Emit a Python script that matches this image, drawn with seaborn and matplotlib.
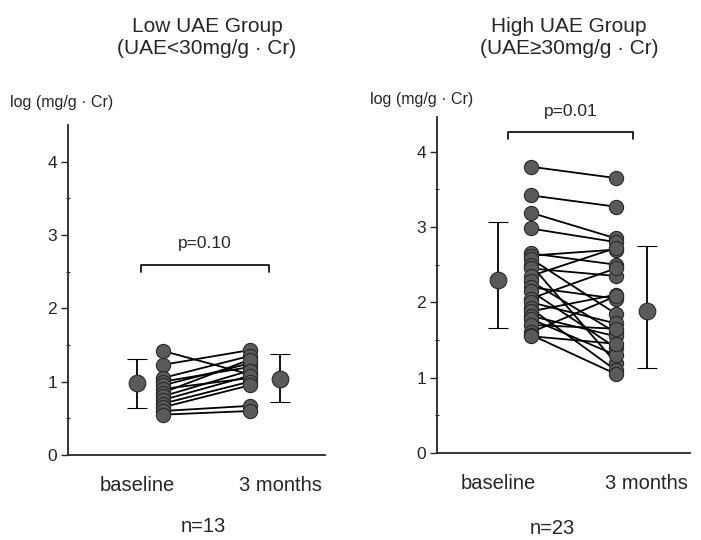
import numpy as np
import pandas as pd
import matplotlib
matplotlib.use("Agg")
import matplotlib.pyplot as plt
import seaborn as sns

sns.set_style("ticks")
plt.rcParams['font.family'] = ['Liberation Sans', 'DejaVu Sans']

# ---- data ----
timepoints = ["baseline", "3 months"]

low_baseline = [1.42, 1.23, 1.05, 1.00, 0.95, 0.90, 0.85, 0.80, 0.75, 0.70, 0.65, 0.60, 0.55]
low_3months = [1.10, 1.43, 1.35, 1.20, 1.25, 1.05, 1.30, 1.15, 1.08, 1.00, 0.95, 0.67, 0.60]
low_mean = [0.98, 1.04]
low_err_low = [0.34, 0.32]
low_err_high = [0.33, 0.34]

high_baseline = [3.80, 3.42, 3.19, 2.98, 2.65, 2.62, 2.58, 2.50, 2.45, 2.35, 2.28, 2.20,
                 2.15, 2.05, 2.00, 1.92, 1.88, 1.82, 1.78, 1.70, 1.60, 1.57, 1.55]
high_3months = [3.65, 3.27, 2.85, 2.80, 2.50, 2.70, 1.85, 1.20, 2.35, 2.72, 1.60, 2.05,
                1.40, 2.45, 1.72, 1.10, 2.10, 1.55, 1.30, 1.65, 2.08, 1.05, 1.45]
high_mean = [2.29, 1.88]
high_err_low = [0.63, 0.75]
high_err_high = [0.78, 0.87]

titles = ["Low UAE Group\n(UAE<30mg/g · Cr)", "High UAE Group\n(UAE≥30mg/g · Cr)"]
pvals = ["p=0.10", "p=0.01"]
ns = ["n=13", "n=23"]
ylabel = "log (mg/g · Cr)"

fig = plt.figure(figsize=(7.01, 5.40), dpi=100)

panels = [
    dict(rect=[68/701, 85/540, 257/701, 330/540], ylim=(0, 4.50), xlim=(-0.48, 1.31),
         base=low_baseline, m3=low_3months, mean=low_mean,
         err=[low_err_low, low_err_high], pts=(0.18, 0.785),
         bracket=(0.03, 0.92, 2.59, 2.50), ptext=2.89, title=titles[0], p=pvals[0], n=ns[0],
         titlex=207/701, ylabx=10/701, ylaby=1-102/540, nx=203/701, ny=1-527/540),
    dict(rect=[437/701, 87/540, 253/701, 336/540], ylim=(0, 4.46), xlim=(-0.41, 1.29),
         base=high_baseline, m3=high_3months, mean=high_mean,
         err=[high_err_low, high_err_high], pts=(0.22, 0.79),
         bracket=(0.07, 0.91, 4.26, 4.17), ptext=4.53, title=titles[1], p=pvals[1], n=ns[1],
         titlex=569/701, ylabx=370/701, ylaby=1-100/540, nx=552/701, ny=1-528/540),
]

pt_color = "#5a5a5a"

for P in panels:
    ax = fig.add_axes(P["rect"])
    n = len(P["base"])
    df = pd.DataFrame({
        "id": list(range(n)) * 2,
        "x": [P["pts"][0]] * n + [P["pts"][1]] * n,
        "value": list(P["base"]) + list(P["m3"]),
    })
    sns.lineplot(data=df, x="x", y="value", units="id", estimator=None,
                 color="black", lw=1.3, ax=ax, legend=False)
    sns.scatterplot(data=df, x="x", y="value", s=105, color=pt_color,
                    edgecolor="#2a2a2a", linewidth=0.8, ax=ax, legend=False, zorder=3)
    ax.errorbar([0, 1], P["mean"], yerr=P["err"], fmt="o", ms=12, color="black",
                mfc=pt_color, mec="#2a2a2a", mew=0.8, elinewidth=1.3, capsize=7,
                capthick=1.3, zorder=4)

    ax.set_xlim(*P["xlim"])
    ax.set_ylim(*P["ylim"])
    ax.set_xticks([0, 1])
    ax.set_xticklabels(timepoints, fontsize=14.5)
    ax.tick_params(axis="x", length=0, pad=15)
    ax.set_yticks([0, 1, 2, 3, 4])
    ax.set_yticks([0.5, 1.5, 2.5, 3.5], minor=True)
    ax.tick_params(axis="y", which="major", length=5, width=1, labelsize=12.5, pad=3)
    ax.tick_params(axis="y", which="minor", length=2.5, width=0.8, direction="inout")
    ax.set_xlabel("")
    ax.set_ylabel("")
    for s in ["top", "right"]:
        ax.spines[s].set_visible(False)
    for s in ["left", "bottom"]:
        ax.spines[s].set_linewidth(1.3)

    x0, x1, yb, ye = P["bracket"]
    ax.plot([x0, x0, x1, x1], [ye, yb, yb, ye], color="black", lw=1.2, clip_on=False)
    ax.text((x0 + x1) / 2, P["ptext"], P["p"], ha="center", va="center",
            fontsize=12.5, clip_on=False)

    fig.text(P["titlex"], 1 - 37/540, P["title"], ha="center", va="center",
             fontsize=15, linespacing=1.2)
    fig.text(P["ylabx"], P["ylaby"], ylabel, ha="left", va="center", fontsize=11.5)
    fig.text(P["nx"], P["ny"], P["n"], ha="center", va="center", fontsize=14.5)

fig.savefig("out.png", dpi=100, facecolor="white")
